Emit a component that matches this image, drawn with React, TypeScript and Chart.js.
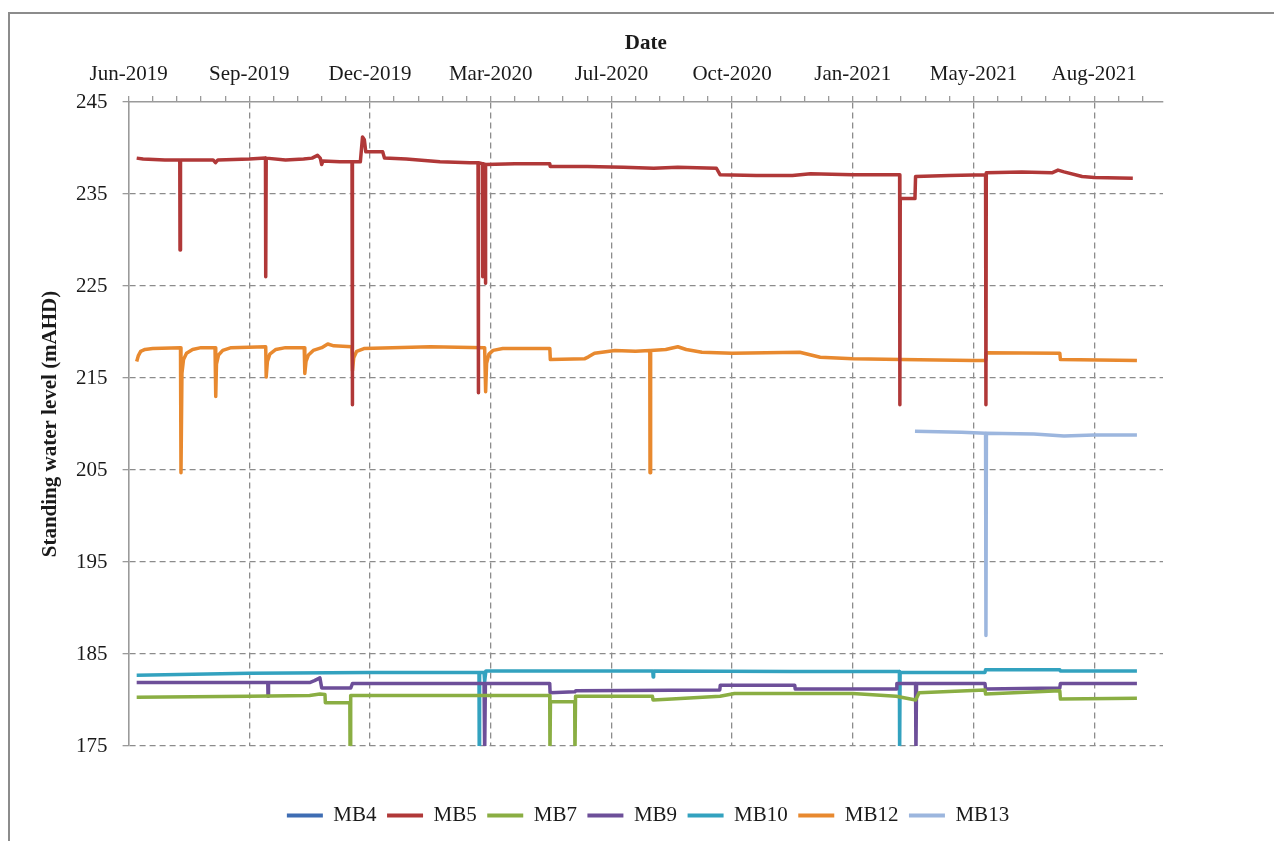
import React, { useEffect, useRef } from "react";
import { Chart, registerables } from "chart.js";

Chart.register(...registerables);

// x values are days counted from 1 Jun 2019 (the axis origin)
const xMaxDay = 857;
const xMajorStepDays = 100;
const xMinorStepDays = 20;
const xTickLabels = [
  "Jun-2019", "Sep-2019", "Dec-2019", "Mar-2020", "Jul-2020",
  "Oct-2020", "Jan-2021", "May-2021", "Aug-2021",
];
const yMin = 175;
const yMax = 245;
const yStep = 10;

const seriesNames = ["MB4", "MB5", "MB7", "MB9", "MB10", "MB12", "MB13"];
const seriesColors = ["#3e6db3", "#b03838", "#8aae43", "#6d4f99", "#33a2bf", "#e8892f", "#9cb6de"];

type Pt = [number, number];

const mb4: Pt[] = [];

const mb5: Pt[] = [
  [6.7, 238.9], [12, 238.8], [30, 238.7], [42.4, 238.7], [42.6, 228.9], [43.0, 238.7], [70, 238.7], [72, 238.4], [74, 238.7], [100, 238.8],
  [113.4, 238.9], [113.6, 226.0], [114.0, 238.9], [130, 238.7], [145, 238.8], [152, 238.9], [156.5, 239.2], [158.8, 238.9], [160, 238.2], [161, 238.6],
  [175, 238.5], [185.1, 238.5], [185.3, 212.1], [185.6, 238.5], [192, 238.5], [193.8, 241.2], [195.3, 240.9], [196.5, 239.6], [210.5, 239.6], [212, 238.9],
  [230, 238.8], [258, 238.5], [282.8, 238.4], [289.5, 238.4], [289.7, 213.4], [290, 238.4], [293.2, 238.3], [293.4, 226.0], [293.7, 238.3], [295.4, 238.2], [295.6, 225.3], [295.9, 238.2],
  [320, 238.3], [348.9, 238.3], [349.3, 238.0], [380, 238.0], [410, 237.9], [435, 237.8], [455, 237.9], [487, 237.8], [490, 237.1], [520, 237.0], [550, 237.0], [565, 237.2], [600, 237.1],
  [638.8, 237.1], [639, 212.1], [639.3, 234.5], [651.5, 234.5], [652, 236.9], [680, 237.0], [710, 237.1], [710.3, 212.1], [710.6, 237.3], [740, 237.4], [765, 237.3], [770, 237.6], [775, 237.4], [790, 236.9], [800, 236.8], [832, 236.7],
];

const mb7: Pt[] = [
  [6.7, 180.3], [100, 180.4], [150, 180.5], [158.5, 180.65], [162.7, 180.6], [163, 179.7], [183.3, 179.7], [183.5, 174], [184, 180.5], [300, 180.5],
  [348.9, 180.5], [349.1, 174], [349.5, 179.8], [369.6, 179.8], [369.8, 174], [370.3, 180.4], [434, 180.4], [434.5, 180.0], [450, 180.1], [490, 180.4],
  [502, 180.7], [600, 180.7], [636, 180.4], [652, 180.0], [655, 180.8], [709.5, 181.1], [710, 180.65], [771.5, 181.0], [772, 180.1], [835.4, 180.2],
];

const mb9: Pt[] = [
  [6.7, 181.9], [100, 181.9], [115.3, 181.9], [115.5, 180.4], [115.9, 181.9], [150, 181.9], [154, 182.1], [158.5, 182.4], [160, 181.3], [184, 181.3],
  [185.5, 181.8], [294.5, 181.8], [295, 174], [295.6, 181.8], [348.9, 181.8], [349.2, 180.8], [369.8, 180.9], [370.5, 181.0], [489.8, 181.1], [490.2, 181.6],
  [551.9, 181.6], [552.3, 181.2], [636, 181.2], [636.5, 181.8], [652, 181.8], [652.3, 174], [652.8, 181.8], [709.5, 181.8], [710, 181.2], [771.5, 181.3],
  [772, 181.8], [835.4, 181.8],
];

const mb10: Pt[] = [
  [6.7, 182.7], [100, 182.9], [200, 183.0], [290.3, 183.0], [290.5, 174], [290.8, 183.0], [294.5, 183.0], [295, 182.0], [296, 183.15], [380, 183.15],
  [434.3, 183.15], [434.6, 182.5], [435, 183.15], [550, 183.1], [638.6, 183.1], [638.8, 174], [639.2, 183.0], [709.5, 183.0], [710, 183.3], [771.5, 183.3],
  [772, 183.15], [835.4, 183.15],
];

const mb12: Pt[] = [
  [6.7, 216.8], [8, 217.4], [10, 217.9], [13.6, 218.1], [20, 218.2], [43, 218.3], [43.4, 204.7], [44.2, 215.5], [45.5, 217.0], [48, 217.7],
  [53, 218.1], [60, 218.3], [71.6, 218.3], [72.2, 213.0], [72.8, 216.5], [74.5, 217.5], [78, 218.0], [85, 218.3], [113.6, 218.4], [114, 215.1],
  [115, 216.8], [117, 217.6], [122, 218.1], [130, 218.3], [145.5, 218.3], [146, 215.5], [147, 216.8], [149, 217.5], [153, 218.0], [160, 218.3],
  [165, 218.7], [170, 218.5], [185, 218.4], [185.5, 215.8], [186.5, 217.2], [189, 217.9], [195, 218.2], [250, 218.4], [295, 218.3], [295.8, 213.5],
  [296.6, 216.6], [298.5, 217.6], [302, 218.0], [310, 218.2], [349, 218.2], [349.4, 217.0], [378, 217.1], [381, 217.3], [386, 217.7], [403, 218.0],
  [420, 217.9], [431.8, 218.0], [432, 204.7], [432.5, 218.0], [445, 218.1], [455, 218.4], [462, 218.1], [475, 217.8], [500, 217.7], [556, 217.8],
  [573, 217.25], [600, 217.1], [640, 217.0], [700, 216.9], [710, 216.9], [710.5, 217.75], [771.5, 217.7], [772, 217.0], [835.4, 216.9],
];

const mb13: Pt[] = [
  [651.5, 209.2], [690, 209.1], [710, 209.0], [710.3, 187.0], [710.7, 209.0], [750, 208.9], [775, 208.7], [800, 208.8], [835.4, 208.8],
];

const seriesData: Pt[][] = [mb4, mb5, mb7, mb9, mb10, mb12, mb13];

const FONT = "'Liberation Serif', 'Times New Roman', serif";
const TEXT = "#1a1a1a";
const GRID = "#8c8c8c";
const AXIS = "#9a9a9a";

export default function App() {
  const ref = useRef<HTMLCanvasElement | null>(null);

  useEffect(() => {
    document.body.style.overflow = "hidden";
    const canvas = ref.current;
    if (!canvas) return;
    const chart = new Chart(canvas, {
      type: "line",
      data: {
        datasets: seriesNames.map((name, i) => ({
          label: name,
          data: seriesData[i].map(([x, y]) => ({ x, y })),
          borderColor: seriesColors[i],
          backgroundColor: seriesColors[i],
          borderWidth: 3.5,
          pointRadius: 0,
          tension: 0,
          clip: 0,
          borderJoinStyle: "round" as const,
        })),
      },
      options: {
        responsive: false,
        animation: false,
        events: [],
        layout: { padding: { left: 12, right: 0, top: 0, bottom: 5 } },
        plugins: {
          tooltip: { enabled: false },
          legend: {
            position: "bottom",
            title: { display: true, text: "", padding: { top: 36.5, bottom: 0 }, font: { size: 10 } },
            labels: {
              boxWidth: 36,
              boxHeight: 4,
              padding: 10.5,
              color: TEXT,
              font: { family: FONT, size: 21 },
              generateLabels: (c: any) =>
                Chart.defaults.plugins.legend.labels.generateLabels(c).map((l: any) => ({ ...l, lineWidth: 0 })),
            },
          },
        },
        scales: {
          x: {
            type: "linear",
            position: "top",
            min: 0,
            max: xMaxDay,
            afterFit: (s: any) => { s.height = 88; },
            ticks: {
              stepSize: xMinorStepDays,
              includeBounds: false,
              autoSkip: false,
              maxRotation: 0,
              padding: 9,
              color: TEXT,
              font: { family: FONT, size: 21 },
              callback: (v: any) => {
                const n = Number(v);
                return n % xMajorStepDays === 0 ? xTickLabels[n / xMajorStepDays] ?? "" : "";
              },
            },
            grid: {
              color: (ctx: any) => {
                const v = ctx.tick ? ctx.tick.value : 0;
                return v !== 0 && v % xMajorStepDays === 0 ? GRID : "rgba(0,0,0,0)";
              },
              lineWidth: 1.3,
              tickColor: AXIS,
              tickLength: 6,
              tickWidth: 1.3,
            },
            border: { display: true, color: AXIS, width: 1.6, dash: [6, 4] },
            title: {
              display: true,
              text: "Date",
              color: TEXT,
              font: { family: FONT, size: 21, weight: "bold" },
              padding: { top: 17, bottom: 0 },
            },
          },
          y: {
            type: "linear",
            position: "left",
            min: yMin,
            max: yMax,
            afterFit: (s: any) => { s.width = 106.6; },
            ticks: {
              stepSize: yStep,
              padding: 15,
              color: TEXT,
              font: { family: FONT, size: 21 },
            },
            grid: {
              color: (ctx: any) => {
                const v = ctx.tick ? ctx.tick.value : 0;
                return v === yMax ? "rgba(0,0,0,0)" : GRID;
              },
              lineWidth: 1.3,
              tickColor: AXIS,
              tickLength: 6,
              tickWidth: 1.3,
            },
            border: { display: true, color: AXIS, width: 1.6, dash: [6, 4] },
            title: {
              display: true,
              text: "Standing water level (mAHD)",
              color: TEXT,
              font: { family: FONT, size: 21, weight: "bold" },
              padding: { top: 16, bottom: 0 },
            },
          },
          spacerRight: {
            type: "linear",
            position: "right",
            display: true,
            afterFit: (s: any) => { s.width = 111; },
            ticks: { display: false },
            grid: { display: false, drawOnChartArea: false },
            border: { display: false },
            title: { display: false },
          },
        },
      } as any,
    });
    return () => chart.destroy();
  }, []);

  return (
    <div
      style={{
        position: "absolute",
        left: 8,
        top: 12,
        width: 1264,
        height: 827,
        borderLeft: "2px solid #8c8c8c",
        borderTop: "2px solid #8c8c8c",
        background: "#fff",
      }}
    >
      <canvas ref={ref} width={1264} height={827} style={{ display: "block" }} />
    </div>
  );
}
